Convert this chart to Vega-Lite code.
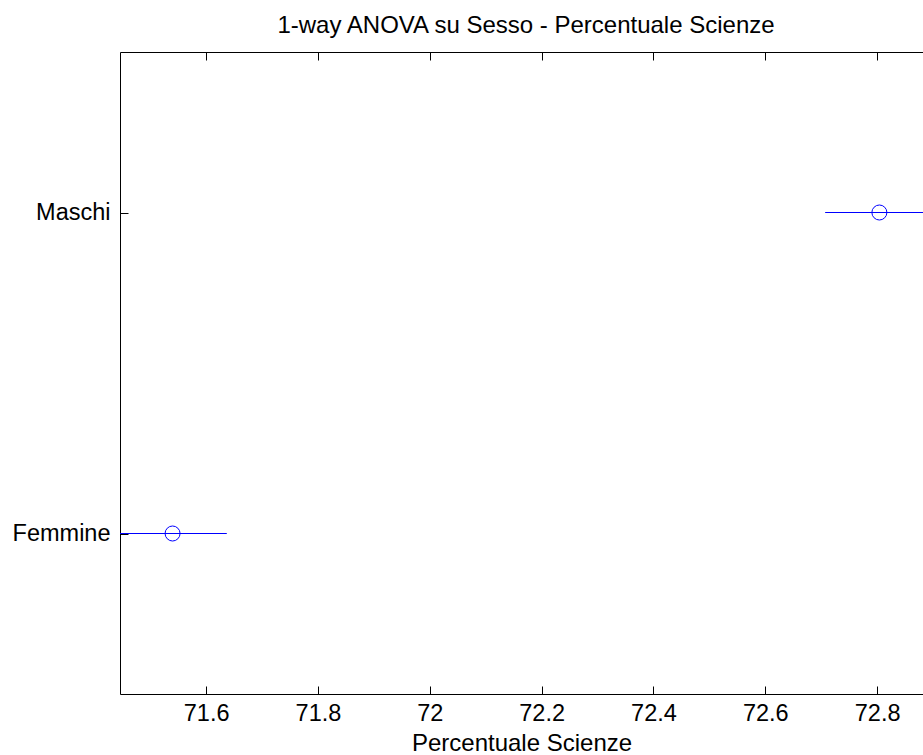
{
  "$schema": "https://vega.github.io/schema/vega-lite/v6.json",
  "width": 803,
  "height": 642,
  "autosize": {"type": "none"},
  "padding": {"left": 120, "top": 52, "right": 0, "bottom": 61},
  "background": "white",
  "title": {
    "text": "1-way ANOVA su Sesso - Percentuale Scienze",
    "font": "Liberation Sans",
    "fontSize": 24,
    "fontWeight": "normal",
    "color": "black",
    "anchor": "middle",
    "dx": 4.5,
    "offset": -5,
    "baseline": "alphabetic"
  },
  "data": {
    "values": [
      {"gruppo": "Maschi", "media": 72.804, "inf": 72.707, "sup": 72.901},
      {"gruppo": "Femmine", "media": 71.540, "inf": 71.443, "sup": 71.637}
    ]
  },
  "encoding": {
    "y": {
      "field": "gruppo",
      "type": "nominal",
      "sort": ["Maschi", "Femmine"],
      "scale": {"type": "point", "padding": 0.5},
      "axis": {
        "orient": "left",
        "title": null,
        "grid": false,
        "domain": true,
        "domainColor": "black",
        "domainWidth": 1,
        "ticks": true,
        "tickSize": -8,
        "tickColor": "black",
        "tickWidth": 1,
        "labelFont": "Liberation Sans",
        "labelFontSize": 23.5,
        "labelColor": "black",
        "labelPadding": 18
      }
    }
  },
  "layer": [
    {
      "mark": {"type": "rule", "color": "#0000ff", "strokeWidth": 1, "clip": true},
      "encoding": {
        "x": {
          "field": "inf",
          "type": "quantitative",
          "scale": {"domain": [71.446, 72.882], "nice": false, "zero": false},
          "axis": {
            "orient": "bottom",
            "title": "Percentuale Scienze",
            "titleFont": "Liberation Sans",
            "titleFontSize": 24,
            "titleFontWeight": "normal",
            "titleColor": "black",
            "titlePadding": 7,
            "values": [71.6, 71.8, 72, 72.2, 72.4, 72.6, 72.8],
            "format": ".1~f",
            "grid": false,
            "domain": true,
            "domainColor": "black",
            "domainWidth": 1,
            "ticks": true,
            "tickSize": -8,
            "tickColor": "black",
            "tickWidth": 1,
            "labelFont": "Liberation Sans",
            "labelFontSize": 23.5,
            "labelColor": "black",
            "labelPadding": 15
          }
        },
        "x2": {"field": "sup"}
      }
    },
    {
      "mark": {"type": "point", "shape": "circle", "filled": false, "color": "#0000ff", "size": 225, "strokeWidth": 1, "opacity": 1, "clip": true},
      "encoding": {
        "x": {
          "field": "media",
          "type": "quantitative",
          "scale": {"domain": [71.446, 72.882], "nice": false, "zero": false},
          "axis": {
            "orient": "top",
            "title": null,
            "values": [71.6, 71.8, 72, 72.2, 72.4, 72.6, 72.8],
            "labels": false,
            "grid": false,
            "domain": true,
            "domainColor": "black",
            "domainWidth": 1,
            "ticks": true,
            "tickSize": -8,
            "tickColor": "black",
            "tickWidth": 1
          }
        }
      }
    }
  ],
  "resolve": {"axis": {"x": "independent"}},
  "config": {"view": {"stroke": null}}
}
